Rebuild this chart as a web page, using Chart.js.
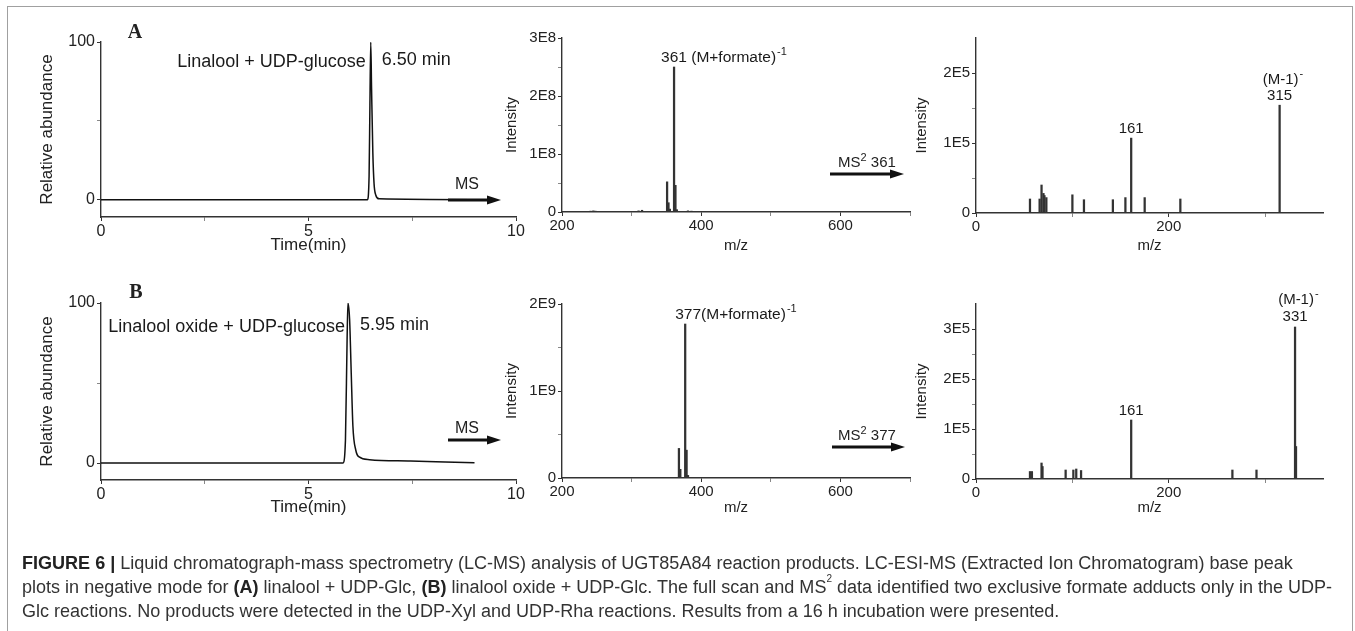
<!DOCTYPE html>
<html><head><meta charset="utf-8">
<script src="https://cdn.jsdelivr.net/npm/chart.js@4.4.1/dist/chart.umd.min.js"></script>
<style>
html,body{margin:0;padding:0;background:#fff;}
#root{position:relative;width:1355px;height:631px;overflow:hidden;font-family:"Liberation Sans",Arial,sans-serif;}
canvas.c{position:absolute;}
#frame{position:absolute;left:7px;top:6px;width:1346px;height:640px;border:1px solid #a0a0a0;box-sizing:border-box;}
.cap{position:absolute;left:22px;font-size:18.05px;color:#333;white-space:nowrap;line-height:20px;}
.cap b{color:#222;}
.cap sup{font-size:10px;line-height:0;vertical-align:top;position:relative;top:2px;}
svg{position:absolute;left:0;top:0;}
</style></head><body>
<div id="root">
<div id="frame"></div>
<canvas class="c" id="cA1" width="540" height="270" style="left:0;top:0"></canvas>
<canvas class="c" id="cA2" width="440" height="270" style="left:490px;top:0"></canvas>
<canvas class="c" id="cA3" width="450" height="270" style="left:900px;top:0"></canvas>
<canvas class="c" id="cB1" width="540" height="270" style="left:0;top:261px"></canvas>
<canvas class="c" id="cB2" width="440" height="270" style="left:490px;top:261px"></canvas>
<canvas class="c" id="cB3" width="450" height="270" style="left:900px;top:261px"></canvas>
<svg width="1355" height="631" font-family="Liberation Sans, Arial, sans-serif" fill="#222">
  <text x="135" y="38" font-family="Liberation Serif, Times New Roman, serif" font-weight="bold" font-size="20" text-anchor="middle">A</text>
  <text x="136" y="298" font-family="Liberation Serif, Times New Roman, serif" font-weight="bold" font-size="20" text-anchor="middle">B</text>
  <text x="467" y="189" font-size="16" text-anchor="middle">MS</text>
  <line x1="448" y1="200" x2="489" y2="200" stroke="#111" stroke-width="3"/>
  <polygon points="487,195.5 501,200 487,204.5" fill="#111"/>
  <text x="467" y="433" font-size="16" text-anchor="middle">MS</text>
  <line x1="448" y1="440" x2="489" y2="440" stroke="#111" stroke-width="3"/>
  <polygon points="487,435.5 501,440 487,444.5" fill="#111"/>
  <text x="867" y="167" font-size="15" text-anchor="middle">MS<tspan font-size="11" dy="-6">2</tspan><tspan dy="6"> 361</tspan></text>
  <line x1="830" y1="174" x2="892" y2="174" stroke="#111" stroke-width="3"/>
  <polygon points="890,169.5 904,174 890,178.5" fill="#111"/>
  <text x="867" y="440" font-size="15" text-anchor="middle">MS<tspan font-size="11" dy="-6">2</tspan><tspan dy="6"> 377</tspan></text>
  <line x1="832" y1="447" x2="893" y2="447" stroke="#111" stroke-width="3"/>
  <polygon points="891,442.5 905,447 891,451.5" fill="#111"/>
</svg>
<div class="cap" style="top:553px"><b>FIGURE 6 |</b> Liquid chromatograph-mass spectrometry (LC-MS) analysis of UGT85A84 reaction products. LC-ESI-MS (Extracted Ion Chromatogram) base peak</div>
<div class="cap" style="top:577px">plots in negative mode for <b>(A)</b> linalool + UDP-Glc, <b>(B)</b> linalool oxide + UDP-Glc. The full scan and MS<sup>2</sup> data identified two exclusive formate adducts only in the UDP-</div>
<div class="cap" style="top:601px">Glc reactions. No products were detected in the UDP-Xyl and UDP-Rha reactions. Results from a 16 h incubation were presented.</div>
</div>
<script>
// ---------- DATA ----------
// Panel A chromatogram (time, relative abundance)
const timeA = [0, 6.42, 6.46, 6.48, 6.50, 6.52, 6.55, 6.58, 6.62, 6.70, 9.0];
const abundA = [0, 0, 15, 60, 100, 70, 30, 10, 3, 0.5, 0];
// Panel B chromatogram
const timeB = [0, 5.83, 5.89, 5.93, 5.95, 5.99, 6.03, 6.07, 6.14, 6.22, 6.47, 7.46, 8.29, 9.0];
const abundB = [0, 0, 14, 77, 100, 90, 56, 23, 8, 3.8, 2.1, 1.3, 0.6, 0.2];
// Panel A full-scan MS (m/z, intensity)
const msA_mz = [241, 245, 248, 305, 310, 315, 351, 353, 355, 361, 363, 365, 381, 386, 455, 462, 520];
const msA_int = [1.5e6, 2e6, 1.5e6, 1e6, 2e6, 3e6, 5.2e7, 1.6e7, 5e6, 2.5e8, 4.6e7, 4e6, 2e6, 1.5e6, 1e6, 1e6, 8e5];
// Panel B full-scan MS
const msB_mz = [368, 370, 377, 379, 381];
const msB_int = [3.4e8, 1e8, 1.77e9, 3.2e8, 3e7];
// Panel A MS2 of 361
const ms2A_mz = [56, 66, 68, 70, 71, 73, 100, 112, 142, 155, 161, 175, 212, 315];
const ms2A_int = [2.0e4, 2.0e4, 4.0e4, 2.8e4, 2.5e4, 2.2e4, 2.6e4, 1.9e4, 1.9e4, 2.2e4, 1.07e5, 2.2e4, 2.0e4, 1.54e5];
// Panel B MS2 of 377
const ms2B_mz = [56, 58, 68, 69, 93, 101, 104, 109, 161, 266, 291, 331, 332];
const ms2B_int = [1.5e4, 1.5e4, 3.2e4, 2.5e4, 1.8e4, 1.8e4, 2.0e4, 1.7e4, 1.18e5, 1.8e4, 1.8e4, 3.04e5, 6.5e4];

// Tick values / labels
const chromXMajor = [0, 5, 10], chromXMinor = [2.5, 7.5];
const chromYMajor = [0, 100], chromYMinor = [50];
const msXMajor = [200, 400, 600], msXMinor = [300, 500, 700];
const msAYMajor = [0, 1e8, 2e8, 3e8], msAYLabels = ['0', '1E8', '2E8', '3E8'], msAYMinor = [5e7, 1.5e8, 2.5e8];
const msBYMajor = [0, 1e9, 2e9], msBYLabels = ['0', '1E9', '2E9'], msBYMinor = [5e8, 1.5e9];
const ms2XMajor = [0, 200], ms2XMinor = [100, 300];
const ms2AYMajor = [0, 1e5, 2e5], ms2AYLabels = ['0', '1E5', '2E5'], ms2AYMinor = [5e4, 1.5e5];
const ms2BYMajor = [0, 1e5, 2e5, 3e5], ms2BYLabels = ['0', '1E5', '2E5', '3E5'], ms2BYMinor = [5e4, 1.5e5, 2.5e5];

// ---------- RENDER ----------
const FONT = '"Liberation Sans", Arial, sans-serif';
Chart.defaults.font.family = FONT;
Chart.defaults.color = '#222';

const notesPlugin = {
  id: 'notes',
  afterDatasetsDraw(chart, args, opts) {
    const ctx = chart.ctx, xs = chart.scales.x, ys = chart.scales.y;
    (opts.items || []).forEach(it => {
      ctx.save();
      ctx.font = it.size + 'px ' + FONT;
      ctx.fillStyle = '#1a1a1a';
      ctx.textAlign = it.align || 'center';
      ctx.textBaseline = 'middle';
      const px = xs.getPixelForValue(it.x) + (it.dx || 0);
      const py = ys.getPixelForValue(it.y) + (it.dy || 0);
      ctx.fillText(it.text, px, py);
      if (it.sup) {
        const w = ctx.measureText(it.text).width;
        let endX = px + w;
        if ((it.align || 'center') === 'center') endX = px + w / 2;
        if (it.align === 'right') endX = px;
        ctx.font = (it.supSize || 11) + 'px ' + FONT;
        ctx.textAlign = 'left';
        ctx.fillText(it.sup, endX + 1, py - 6);
      }
      ctx.restore();
    });
  }
};

function axis(opts) {
  const major = opts.major, minor = opts.minor, labels = opts.labels || major.map(String);
  const all = major.concat(minor).sort((a, b) => a - b);
  const o = {
    type: 'linear', min: opts.min, max: opts.max, offset: false,
    afterBuildTicks: s => { s.ticks = all.map(v => ({ value: v })); },
    afterFit: s => { if (opts.w !== undefined) s.width = opts.w; if (opts.h !== undefined) s.height = opts.h; },
    ticks: {
      autoSkip: false, maxRotation: 0, minRotation: 0, padding: opts.tpad !== undefined ? opts.tpad : 2,
      font: { size: opts.tsize }, color: '#222',
      callback: v => { const i = major.indexOf(v); return i >= 0 ? labels[i] : ''; }
    },
    grid: {
      drawOnChartArea: false, offset: false, tickLength: 4, color: '#333',
      tickColor: c => (c.tick && major.indexOf(c.tick.value) >= 0) ? '#333' : '#888',
      tickWidth: 1
    },
    border: { display: true, color: '#333', width: 1.4 },
    title: { display: true, text: opts.title, font: { size: opts.titleSize }, color: '#222', padding: opts.titlePad }
  };
  return o;
}

function chrom(id, t, a, ymin, pad, xh, xtp, notes) {
  return new Chart(document.getElementById(id), {
    type: 'line',
    data: { datasets: [{ data: t.map((v, i) => ({ x: v, y: a[i] })), borderColor: '#111', borderWidth: 1.5,
      pointRadius: 0, cubicInterpolationMode: 'monotone', fill: false }] },
    options: {
      responsive: false, animation: false, devicePixelRatio: 1,
      layout: { padding: pad },
      plugins: { legend: { display: false }, tooltip: { enabled: false }, notes: { items: notes } },
      scales: {
        x: axis({ min: 0, max: 10, major: chromXMajor, minor: chromXMinor, tsize: 16, title: 'Time(min)', titleSize: 17,
          titlePad: { top: 0, bottom: xtp }, h: xh, tpad: 1 }),
        y: axis({ min: ymin, max: 100, major: chromYMajor, minor: chromYMinor, tsize: 16, title: 'Relative abundance', titleSize: 17,
          titlePad: { top: 17, bottom: 0 }, w: 81, tpad: 2 })
      }
    },
    plugins: [notesPlugin]
  });
}

function spec(id, mz, inten, xr, xmaj, xmin, ymax, ymaj, ylab, ymin2, pad, yw, xh, notes) {
  return new Chart(document.getElementById(id), {
    type: 'bar',
    data: { datasets: [{ data: mz.map((m, i) => ({ x: m, y: inten[i] })), backgroundColor: '#333',
      borderWidth: 0, barThickness: 1.6, grouped: false }] },
    options: {
      responsive: false, animation: false, devicePixelRatio: 1,
      layout: { padding: pad },
      plugins: { legend: { display: false }, tooltip: { enabled: false }, notes: { items: notes } },
      scales: {
        x: axis({ min: xr[0], max: xr[1], major: xmaj, minor: xmin, tsize: 15, title: 'm/z', titleSize: 15,
          titlePad: { top: 0, bottom: 1 }, h: xh, tpad: 1 }),
        y: axis({ min: 0, max: ymax, major: ymaj, labels: ylab, minor: ymin2, tsize: 15, title: 'Intensity', titleSize: 15,
          titlePad: { top: 8, bottom: 0 }, w: yw, tpad: 2 })
      }
    },
    plugins: [notesPlugin]
  });
}

chrom('cA1', timeA, abundA, -11, { left: 20, top: 42, right: 24, bottom: 13 }, 40, 1, [
  { text: 'Linalool + UDP-glucose', x: 6.5, y: 100, dx: -5, dy: 20, align: 'right', size: 18 },
  { text: '6.50 min', x: 6.5, y: 100, dx: 11, dy: 18, align: 'left', size: 18 }
]);
chrom('cB1', timeB, abundB, -10.6, { left: 20, top: 42, right: 24, bottom: 11 }, 40, 2, [
  { text: 'Linalool oxide + UDP-glucose', x: 5.95, y: 100, dx: -3, dy: 24, align: 'right', size: 18 },
  { text: '5.95 min', x: 5.95, y: 100, dx: 12, dy: 22, align: 'left', size: 18 }
]);
spec('cA2', msA_mz, msA_int, [200, 700], msXMajor, msXMinor, 3e8, msAYMajor, msAYLabels, msAYMinor,
  { left: 5, top: 38, right: 20, bottom: 14 }, 67, 44, [
  { text: '361 (M+formate)', x: 361, y: 2.5e8, dx: -13, dy: -9, align: 'left', size: 15.5, sup: '-1', supSize: 11 }
]);
spec('cB2', msB_mz, msB_int, [200, 700], msXMajor, msXMinor, 2e9, msBYMajor, msBYLabels, msBYMinor,
  { left: 5, top: 43, right: 20, bottom: 13 }, 67, 40, [
  { text: '377(M+formate)', x: 377, y: 1.77e9, dx: -10, dy: -9, align: 'left', size: 15.5, sup: '-1', supSize: 11 }
]);
spec('cA3', ms2A_mz, ms2A_int, [0, 360], ms2XMajor, ms2XMinor, 2.5e5, ms2AYMajor, ms2AYLabels, ms2AYMinor,
  { left: 5, top: 38, right: 27, bottom: 14 }, 71, 43, [
  { text: '161', x: 161, y: 1.07e5, dy: -9, size: 15 },
  { text: '315', x: 315, y: 1.54e5, dy: -9, size: 15 },
  { text: '(M-1)', x: 315, y: 1.54e5, dx: 1, dy: -25, size: 15, sup: '-', supSize: 11 }
]);
spec('cB3', ms2B_mz, ms2B_int, [0, 360], ms2XMajor, ms2XMinor, 3.5e5, ms2BYMajor, ms2BYLabels, ms2BYMinor,
  { left: 5, top: 43, right: 27, bottom: 13 }, 71, 39, [
  { text: '161', x: 161, y: 1.18e5, dy: -9, size: 15 },
  { text: '331', x: 331, y: 3.04e5, dy: -10, size: 15 },
  { text: '(M-1)', x: 331, y: 3.04e5, dx: 1, dy: -27, size: 15, sup: '-', supSize: 11 }
]);
</script>
</body></html>
